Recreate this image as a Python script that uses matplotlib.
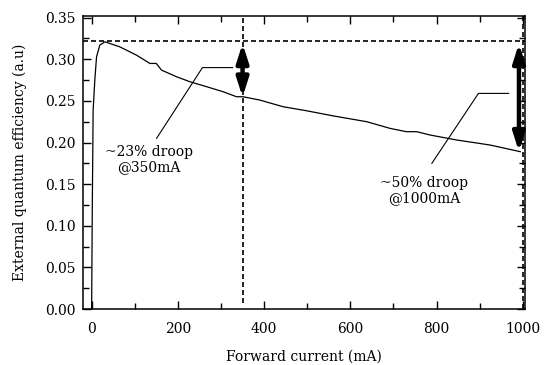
import matplotlib
matplotlib.use("Agg")
import matplotlib.pyplot as plt
from matplotlib.ticker import MultipleLocator

plt.rcParams['font.family'] = ['DejaVu Serif']
plt.rcParams['font.size'] = 10

# EQE curve
current_ma = [0, 1.5, 3.5, 7.4, 11.4, 19, 30.6, 65, 104, 135, 150, 162, 197, 228,
              267, 305, 336, 351, 390, 444, 500, 560, 638, 692, 730, 754, 785,
              847, 924, 994]
eqe = [0.0, 0.12, 0.239, 0.275, 0.303, 0.317, 0.321, 0.315, 0.305, 0.295, 0.295,
       0.287, 0.279, 0.273, 0.267, 0.261, 0.255, 0.255, 0.251, 0.243, 0.238, 0.232,
       0.225, 0.217, 0.213, 0.213, 0.209, 0.203, 0.197, 0.189]

peak_level = 0.3225
marker_currents = [350, 1000]

# double arrows (x, top, bottom)
arrow_x = [350, 991]
arrow_top = [0.319, 0.319]
arrow_bottom = [0.2545, 0.189]

# labels and leader lines
notes = ["~23% droop\n@350mA", "~50% droop\n@1000mA"]
note_xy = [(133, 0.179), (771, 0.142)]
leader_x = [[150.6, 257, 327], [789, 897, 967]]
leader_y = [[0.205, 0.290, 0.290], [0.175, 0.259, 0.259]]

fig = plt.figure(figsize=(5.45, 3.65), dpi=100)
ax = fig.add_axes([0.1523, 0.1534, 0.811, 0.8028])

ax.plot(current_ma, eqe, color='black', lw=0.9)

dash = (0, (3, 1.8))
ax.axhline(peak_level, color='black', lw=1.2, linestyle=dash)
for xm in marker_currents:
    ax.axvline(xm, ymin=0.02 if xm == 350 else 0, color='black', lw=1.2, linestyle=dash)

for xa, yt, yb in zip(arrow_x, arrow_top, arrow_bottom):
    ax.annotate('', xy=(xa, yb), xytext=(xa, yt),
                arrowprops=dict(arrowstyle='<|-|>,head_length=1.1,head_width=0.35',
                                lw=3.2, color='black', shrinkA=0, shrinkB=0,
                                mutation_scale=10))

for txt, (tx, ty), lx, ly in zip(notes, note_xy, leader_x, leader_y):
    ax.plot(lx, ly, color='black', lw=0.8)
    ax.text(tx, ty, txt, ha='center', va='center', linespacing=1.1)

ax.set_xlim(-20, 1005)
ax.set_ylim(0, 0.352)
ax.set_xticks([0, 200, 400, 600, 800, 1000])
ax.set_yticks([0.0, 0.05, 0.10, 0.15, 0.20, 0.25, 0.30, 0.35])
ax.set_yticklabels(['%.2f' % v for v in ax.get_yticks()])
ax.xaxis.set_minor_locator(MultipleLocator(100))
ax.yaxis.set_minor_locator(MultipleLocator(0.025))
ax.tick_params(which='both', direction='in', top=True, right=True, width=1)
ax.tick_params(which='major', length=6)
ax.tick_params(which='minor', length=4)
ax.tick_params(axis='x', pad=9)
ax.tick_params(axis='y', pad=5)
for s in ax.spines.values():
    s.set_linewidth(1.1)

ax.set_xlabel('Forward current (mA)', labelpad=10)
ax.set_ylabel('External quantum efficiency (a.u)', labelpad=13)

fig.savefig('out.png', dpi=100)
